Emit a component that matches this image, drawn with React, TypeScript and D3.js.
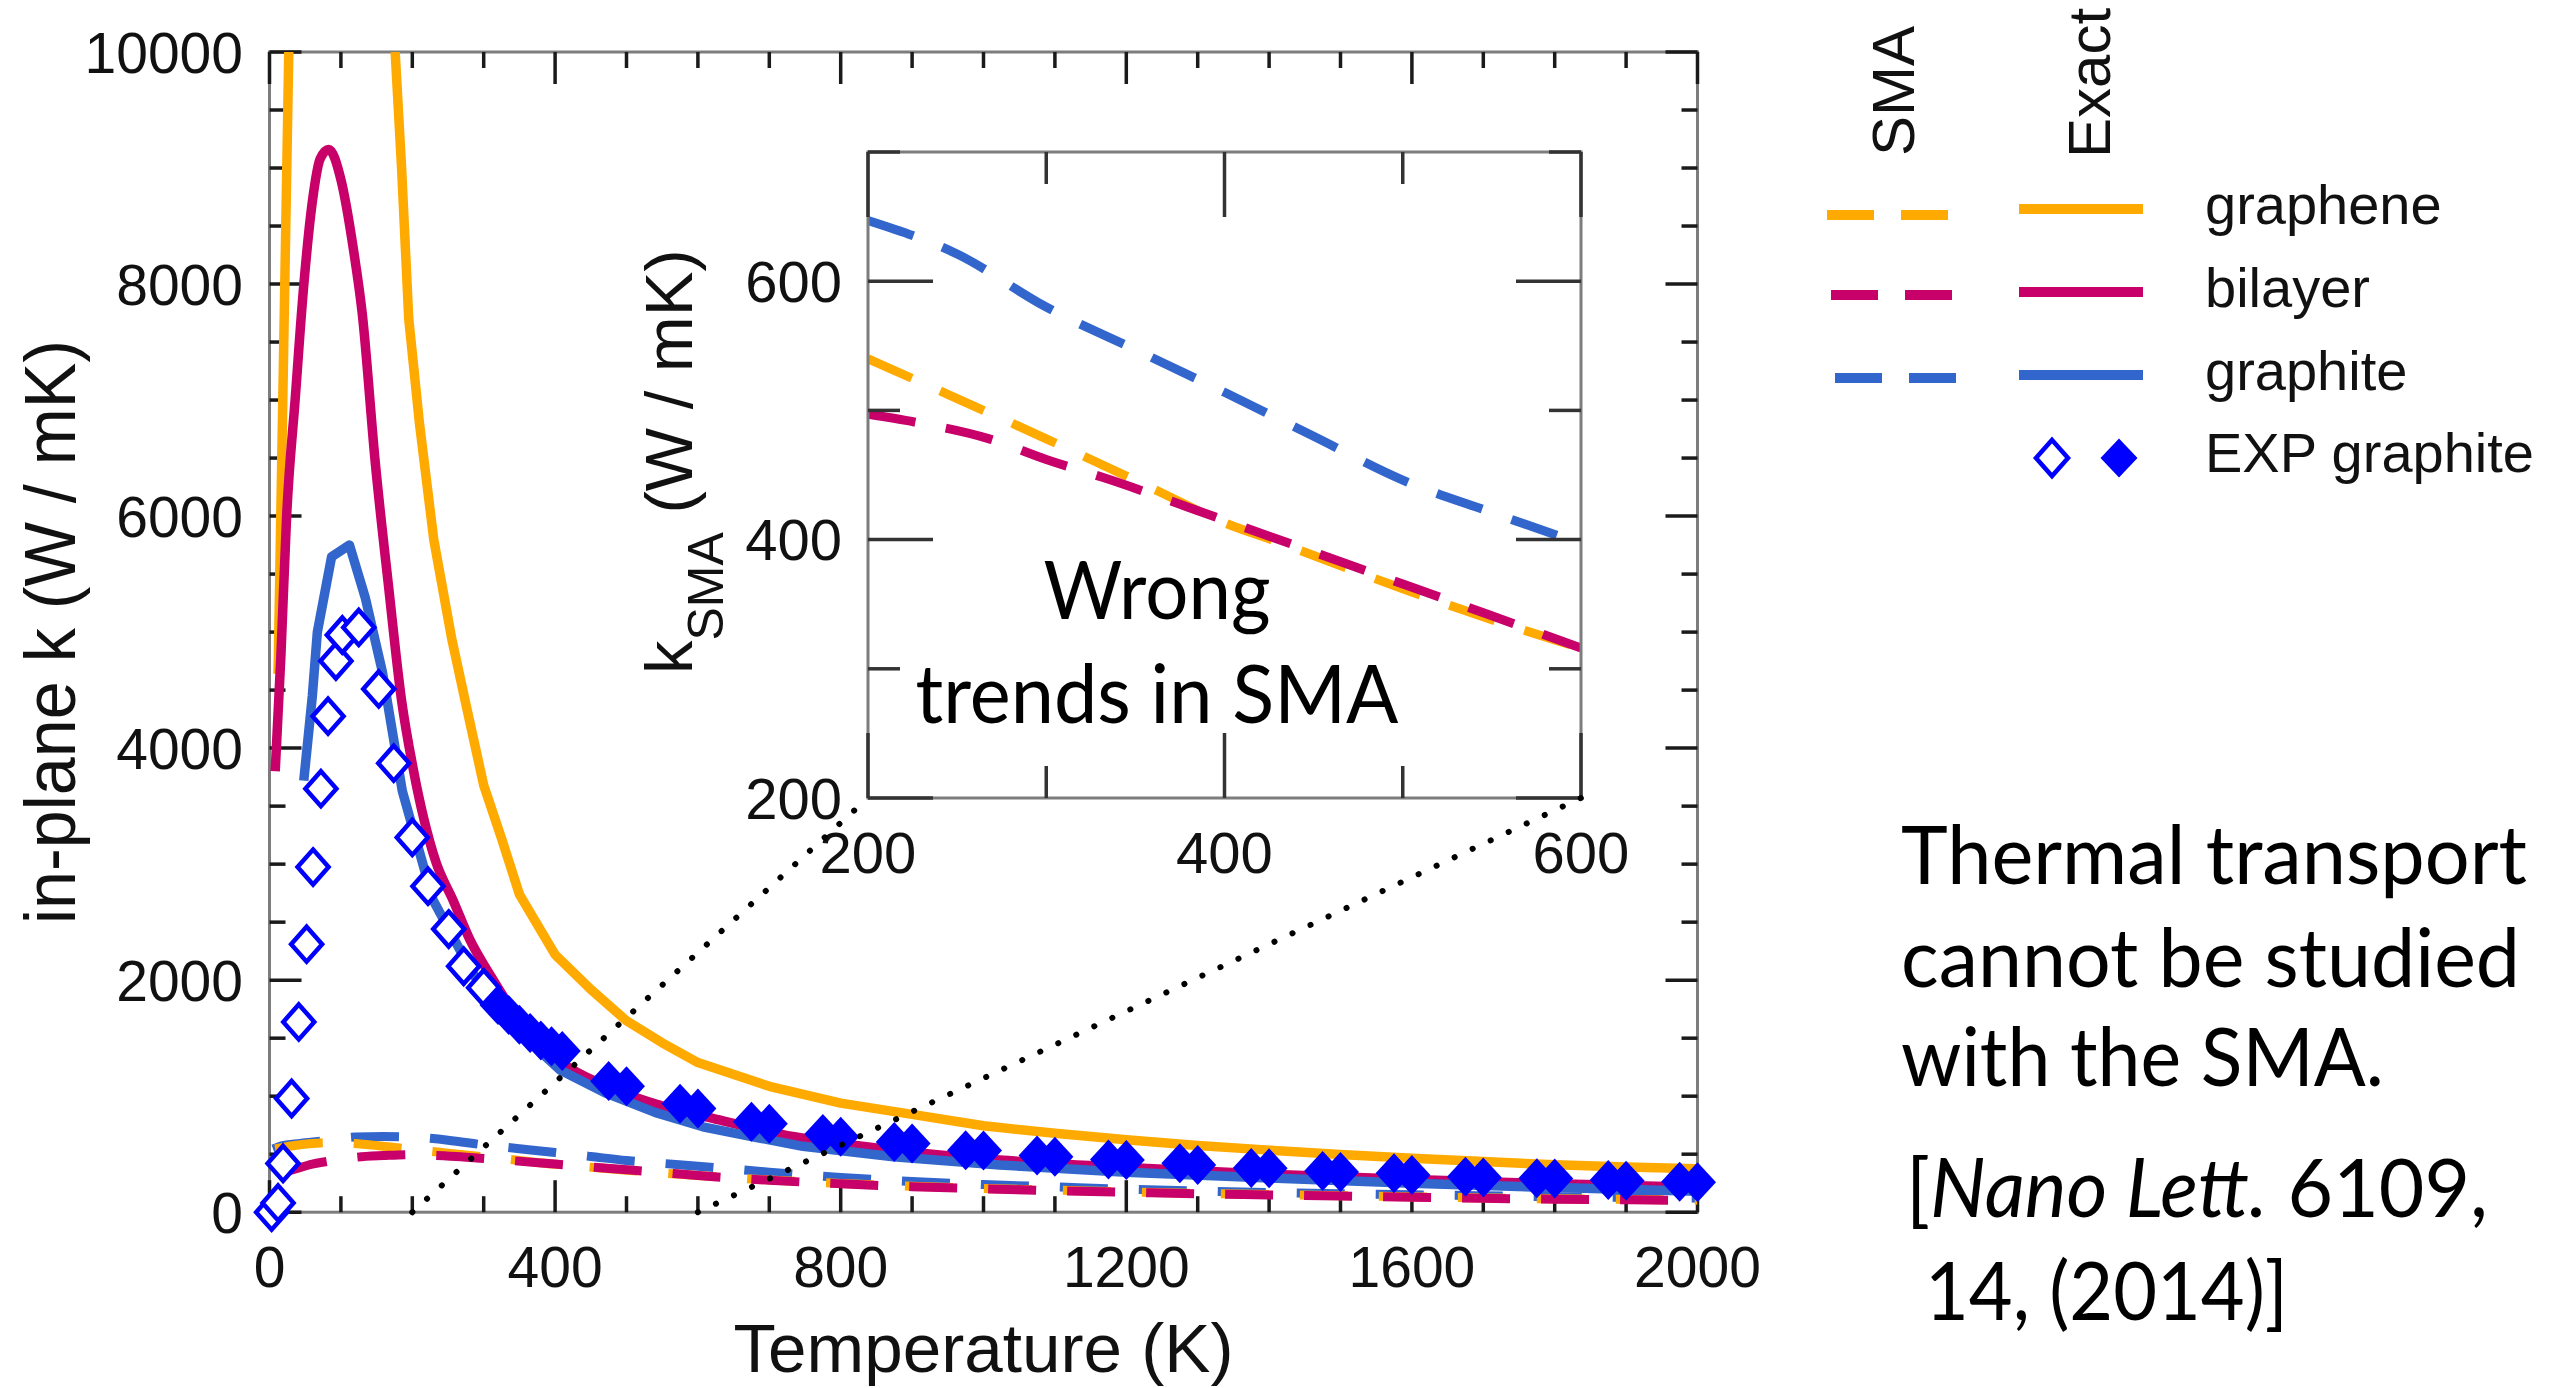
import React from 'react';
import * as d3 from 'd3';

// ---- Exact (full solution) in-plane thermal conductivity, W/mK ----
const grapheneExactT = [12, 27, 100, 176, 185, 195, 210, 230, 255, 275, 300, 325, 350, 400, 450, 500, 550, 600, 700, 800, 900, 1000, 1100, 1200, 1300, 1400, 1500, 1600, 1700, 1800, 1900, 2000];
// null marks the stretch that lies above the 10000 W/mK axis limit
const grapheneExactK = [4640, 10000, null, 10000, 9000, 7700, 6800, 5800, 4950, 4380, 3680, 3220, 2740, 2220, 1920, 1650, 1460, 1290, 1085, 940, 843, 745, 680, 625, 575, 535, 497, 466, 437, 408, 390, 375];

const bilayerExactT = [8, 16, 24, 36, 48, 60, 71, 83, 100, 118, 130, 148, 167, 185, 201, 233, 257, 281, 310, 360, 410, 470, 540, 630, 735, 875, 1000, 1200, 1400, 1600, 1800, 2000];
const bilayerExactK = [3800, 4800, 6000, 7010, 7990, 8710, 9080, 9160, 8900, 8280, 7740, 6470, 5380, 4410, 3830, 3020, 2690, 2345, 2035, 1570, 1285, 1090, 935, 795, 650, 535, 460, 385, 328, 282, 245, 215];

const graphiteExactT = [48, 60, 67, 87, 112, 134, 158, 186, 229, 267, 304, 351, 407, 472, 540, 607, 677, 747, 874, 1023, 1200, 1400, 1600, 1800, 2000];
const graphiteExactK = [3720, 4450, 5000, 5650, 5750, 5300, 4660, 3630, 2690, 2257, 1855, 1542, 1225, 1024, 860, 736, 650, 568, 478, 406, 345, 295, 250, 212, 180];

// ---- Single-mode approximation (SMA), W/mK ----
const grapheneSmaT = [8, 30, 55, 80, 110, 150, 200, 239, 300, 362, 400, 426, 500, 550, 600, 700, 800, 900, 1000, 1100, 1200, 1300, 1400, 1500, 1600, 1700, 1800, 1900, 2000];
const grapheneSmaK = [545, 570, 590, 600, 595, 575, 540, 516, 478, 438, 413, 400, 362, 338, 316, 278, 248, 223, 205, 190, 175, 162, 153, 142, 132, 123, 115, 110, 104];

const bilayerSmaT = [15, 34, 60, 78, 120, 160, 200, 226, 268, 300, 332, 400, 477, 548, 600, 700, 800, 900, 1000, 1100, 1200, 1300, 1400, 1500, 1600, 1700, 1800, 1900, 2000];
const bilayerSmaK = [335, 369, 415, 435, 473, 488, 497, 491, 478, 462, 448, 415, 377, 342, 316, 275, 245, 220, 202, 186, 172, 159, 149, 139, 129, 120, 112, 107, 101];

const graphiteSmaT = [5, 20, 55, 90, 120, 160, 200, 250, 300, 350, 400, 450, 500, 550, 600, 700, 800, 900, 1000, 1100, 1200, 1300, 1400, 1500, 1600, 1700, 1800, 1900, 2000];
const graphiteSmaK = [545, 575, 600, 628, 648, 653, 647, 621, 580, 547, 514, 480, 446, 421, 397, 345, 300, 265, 238, 218, 198, 183, 170, 159, 150, 142, 134, 127, 121];

// ---- Experimental graphite ----
const expOpenT = [3, 12, 19, 31, 41, 52, 61, 72, 82, 93, 102, 125, 153, 174, 200, 222, 251, 272, 300];
const expOpenK = [0, 80, 420, 980, 1640, 2310, 2975, 3650, 4275, 4750, 4975, 5040, 4510, 3870, 3230, 2810, 2440, 2120, 1935];
const expFilledT = [320, 335, 350, 365, 380, 395, 410, 475, 500, 575, 600, 675, 700, 775, 800, 875, 900, 975, 1000, 1075, 1100, 1175, 1200, 1275, 1300, 1375, 1400, 1475, 1500, 1575, 1600, 1675, 1700, 1775, 1800, 1875, 1900, 1975, 2000];
const expFilledK = [1785, 1700, 1615, 1545, 1480, 1430, 1390, 1130, 1085, 935, 893, 780, 762, 675, 650, 605, 593, 535, 532, 488, 478, 455, 449, 421, 406, 380, 378, 355, 347, 335, 320, 306, 300, 292, 290, 277, 272, 263, 258];

// ---- Axes ----
const xTicks = d3.range(0, 2001, 100);
const yTicks = d3.range(0, 10001, 500);
const xTickLabels = [0, 400, 800, 1200, 1600, 2000];
const yTickLabels = [0, 2000, 4000, 6000, 8000, 10000];
const insetXTicks = [200, 300, 400, 500, 600];
const insetYTicks = [200, 300, 400, 500, 600, 700];
const insetXLabels = [200, 400, 600];
const insetYLabels = [200, 400, 600];
const zoomEdges = [200, 600];

const materials = ['graphene', 'bilayer', 'graphite'];
const materialColors = ['#FFAA00', '#C8006A', '#3366CC'];
const expColor = '#0000FF';

const noteLines = ['Thermal transport', 'cannot be studied', 'with the SMA.'];

const ARIAL = '"Liberation Sans", Arial, sans-serif';
const CAL = 'Lato, "Open Sans", sans-serif';

type Pt = { t: number; k: number | null };
const zip = (T: number[], K: (number | null)[]): Pt[] => T.map((t, i) => ({ t, k: K[i] }));

const diamond = (rx: number, ry: number) => `M0,${-ry}L${rx},0L0,${ry}L${-rx},0Z`;

export default function App() {
  const W = 2569;
  const H = 1388;

  const x = d3.scaleLinear().domain([0, 2000]).range([269.5, 1697.5]);
  const y = d3.scaleLinear().domain([0, 10000]).range([1212.2, 52]);
  const xi = d3.scaleLinear().domain([200, 600]).range([868, 1581]);
  const yi = d3.scaleLinear().domain([200, 700]).range([798, 152]);

  const mainLine = (curve: d3.CurveFactory) =>
    d3
      .line<Pt>()
      .defined((d) => d.k != null)
      .curve(curve)
      .x((d) => x(d.t))
      .y((d) => y(d.k as number));
  const insetLine = d3
    .line<Pt>()
    .curve(d3.curveMonotoneX)
    .x((d) => xi(d.t))
    .y((d) => yi(d.k as number));

  const exact = [
    zip(grapheneExactT, grapheneExactK),
    zip(bilayerExactT, bilayerExactK),
    zip(graphiteExactT, graphiteExactK),
  ];
  const exactCurves = [d3.curveLinear, d3.curveMonotoneX, d3.curveLinear];
  const sma = [
    zip(grapheneSmaT, grapheneSmaK),
    zip(bilayerSmaT, bilayerSmaK),
    zip(graphiteSmaT, graphiteSmaK),
  ];
  // draw order for the dashed curves: graphite, graphene, bilayer
  const smaOrder = [2, 0, 1];
  // draw order for the solid curves: graphene, bilayer, graphite
  const exactOrder = [0, 1, 2];

  const [x0, x1] = x.range();
  const [y0, y1] = y.range(); // y0 bottom, y1 top
  const [ix0, ix1] = xi.range();
  const [iy0, iy1] = yi.range();

  const majorLen = 32;
  const minorLen = 16;
  const insetMajor = 65;
  const insetMinor = 32;

  const tickColor = '#1a1a1a';
  const frameColor = '#7d7d7d';

  return (
    <svg
      width={W}
      height={H}
      viewBox={`0 0 ${W} ${H}`}
      style={{ position: 'absolute', left: 0, top: 0, display: 'block', background: '#fff' }}
    >
      <defs>
        <clipPath id="mainClip">
          <rect x={x0} y={y1} width={x1 - x0} height={y0 - y1} />
        </clipPath>
        <clipPath id="insetClip">
          <rect x={ix0} y={iy1} width={ix1 - ix0} height={iy0 - iy1} />
        </clipPath>
      </defs>
      <rect x={0} y={0} width={W} height={H} fill="#fff" />

      {/* main frame */}
      <rect x={x0} y={y1} width={x1 - x0} height={y0 - y1} fill="none" stroke={frameColor} strokeWidth={3} />
      {/* main ticks */}
      <g stroke={tickColor} strokeWidth={3.5}>
        {xTicks.map((t) => {
          const len = t % 400 === 0 ? majorLen : minorLen;
          return (
            <g key={'xt' + t}>
              <line x1={x(t)} x2={x(t)} y1={y0} y2={y0 - len} />
              <line x1={x(t)} x2={x(t)} y1={y1} y2={y1 + len} />
            </g>
          );
        })}
        {yTicks.map((v) => {
          const len = v % 2000 === 0 ? majorLen : minorLen;
          return (
            <g key={'yt' + v}>
              <line x1={x0} x2={x0 + len} y1={y(v)} y2={y(v)} />
              <line x1={x1} x2={x1 - len} y1={y(v)} y2={y(v)} />
            </g>
          );
        })}
      </g>

      {/* SMA curves */}
      <g clipPath="url(#mainClip)" fill="none" strokeWidth={9} strokeDasharray="48 31">
        {smaOrder.map((i) => (
          <path key={'sma' + i} d={mainLine(d3.curveMonotoneX)(sma[i]) || ''} stroke={materialColors[i]} />
        ))}
      </g>
      {/* exact curves */}
      <g clipPath="url(#mainClip)" fill="none" strokeWidth={9.5} strokeLinejoin="round">
        {exactOrder.map((i) => (
          <path key={'ex' + i} d={mainLine(exactCurves[i])(exact[i]) || ''} stroke={materialColors[i]} />
        ))}
      </g>

      {/* experimental points */}
      <g>
        {expOpenT.map((t, i) => (
          <path
            key={'eo' + i}
            d={diamond(15.5, 17.5)}
            transform={`translate(${x(t)},${y(expOpenK[i])})`}
            fill="#fff"
            stroke={expColor}
            strokeWidth={4.5}
          />
        ))}
        {expFilledT.map((t, i) => (
          <path
            key={'ef' + i}
            d={diamond(18.5, 20)}
            transform={`translate(${x(t)},${y(expFilledK[i])})`}
            fill={expColor}
          />
        ))}
      </g>

      {/* inset: SMA between 200 K and 600 K */}
      <rect x={ix0} y={iy1} width={ix1 - ix0} height={iy0 - iy1} fill="#fff" />
      <g clipPath="url(#insetClip)" fill="none" strokeWidth={9} strokeDasharray="48 31">
        {smaOrder.map((i) => (
          <path
            key={'ins' + i}
            d={insetLine(sma[i].filter((d) => d.t >= 200 && d.t <= 600)) || ''}
            stroke={materialColors[i]}
          />
        ))}
      </g>
      <rect x={ix0} y={iy1} width={ix1 - ix0} height={iy0 - iy1} fill="none" stroke={frameColor} strokeWidth={3} />
      <g stroke="#333" strokeWidth={3.5}>
        {insetXTicks.map((t) => {
          const len = t % 200 === 0 ? insetMajor : insetMinor;
          return (
            <g key={'ixt' + t}>
              <line x1={xi(t)} x2={xi(t)} y1={iy0} y2={iy0 - len} />
              <line x1={xi(t)} x2={xi(t)} y1={iy1} y2={iy1 + len} />
            </g>
          );
        })}
        {insetYTicks.map((v) => {
          const len = v % 200 === 0 ? insetMajor : insetMinor;
          return (
            <g key={'iyt' + v}>
              <line x1={ix0} x2={ix0 + len} y1={yi(v)} y2={yi(v)} />
              <line x1={ix1} x2={ix1 - len} y1={yi(v)} y2={yi(v)} />
            </g>
          );
        })}
      </g>
      <g fontFamily={ARIAL} fontSize={58} fill="#111">
        {insetXLabels.map((t) => (
          <text key={'ixl' + t} x={xi(t)} y={873} textAnchor="middle">
            {t}
          </text>
        ))}
        {insetYLabels.map((v) => (
          <text key={'iyl' + v} x={ix0 - 26} y={yi(v)} dy="0.36em" textAnchor="end">
            {v}
          </text>
        ))}
      </g>
      <text transform="translate(692,674) rotate(-90)" fontFamily={ARIAL} fontSize={67} fill="#111">
        k
        <tspan fontSize={50} dy={31}>
          SMA
        </tspan>
        <tspan dy={-31}> (W / mK)</tspan>
      </text>
      <g fontFamily={CAL} fontSize={82} fill="#000" textAnchor="middle">
        <text x={1157} y={619} textLength={227} lengthAdjust="spacingAndGlyphs">
          Wrong
        </text>
        <text x={1157} y={723} textLength={483} lengthAdjust="spacingAndGlyphs">
          trends in SMA
        </text>
      </g>

      {/* zoom guides from the main axis to the inset corners */}
      <g stroke="#000" strokeWidth={6} strokeLinecap="round" strokeDasharray="0.1 19.8" fill="none">
        {zoomEdges.map((t) => (
          <line key={'zg' + t} x1={x(t)} y1={y(0)} x2={xi(t)} y2={yi(200)} />
        ))}
      </g>

      {/* main tick labels */}
      <g fontFamily={ARIAL} fontSize={57} fill="#111">
        {xTickLabels.map((t) => (
          <text key={'xl' + t} x={x(t)} y={1287} textAnchor="middle">
            {t}
          </text>
        ))}
        {yTickLabels.map((v) => (
          <text key={'yl' + v} x={243} y={y(v)} dy="0.36em" textAnchor="end">
            {v}
          </text>
        ))}
      </g>
      <text
        x={(x0 + x1) / 2}
        y={1372}
        textAnchor="middle"
        fontFamily={ARIAL}
        fontSize={68}
        fill="#111"
        textLength={500}
        lengthAdjust="spacingAndGlyphs"
      >
        Temperature (K)
      </text>
      <text
        transform={`translate(75,${(y0 + y1) / 2}) rotate(-90)`}
        textAnchor="middle"
        fontFamily={ARIAL}
        fontSize={72}
        fill="#111"
        textLength={584}
        lengthAdjust="spacingAndGlyphs"
      >
        in-plane k (W / mK)
      </text>

      {/* legend */}
      <g fontFamily={ARIAL} fill="#111">
        <text transform="translate(1914,156) rotate(-90)" fontSize={60}>
          SMA
        </text>
        <text transform="translate(2110,158) rotate(-90)" fontSize={60}>
          Exact
        </text>
        {materials.map((m, i) => {
          const ly = 209 + i * 83;
          const dx = 1827 + i * 4;
          return (
            <g key={'lg' + m}>
              <line
                x1={dx}
                x2={dx + 121}
                y1={ly + (i === 0 ? 6 : 3)}
                y2={ly + (i === 0 ? 6 : 3)}
                stroke={materialColors[i]}
                strokeWidth={10}
                strokeDasharray="47 27"
              />
              <line x1={2019} x2={2143} y1={ly} y2={ly} stroke={materialColors[i]} strokeWidth={10} />
              <text x={2205} y={ly + 15} fontSize={56}>
                {m}
              </text>
            </g>
          );
        })}
        <path d={diamond(16, 18)} transform="translate(2052,458)" fill="#fff" stroke={expColor} strokeWidth={4.5} />
        <path d={diamond(18.5, 19.5)} transform="translate(2119,458)" fill={expColor} />
        <text x={2205} y={472} fontSize={56}>
          EXP graphite
        </text>
      </g>

      {/* note */}
      <g fontFamily={CAL} fontSize={82} fill="#000">
        <text x={1901} y={884} textLength={626} lengthAdjust="spacingAndGlyphs">
          {noteLines[0]}
        </text>
        <text x={1901} y={987} textLength={619} lengthAdjust="spacingAndGlyphs">
          {noteLines[1]}
        </text>
        <text x={1901} y={1086} textLength={483} lengthAdjust="spacingAndGlyphs">
          {noteLines[2]}
        </text>
        <text x={1906} y={1217} textLength={582} lengthAdjust="spacingAndGlyphs">
          [<tspan fontStyle="italic">Nano Lett.</tspan> 6109,
        </text>
        <text x={1925} y={1320} textLength={363} lengthAdjust="spacingAndGlyphs">
          14, (2014)]
        </text>
      </g>
    </svg>
  );
}
